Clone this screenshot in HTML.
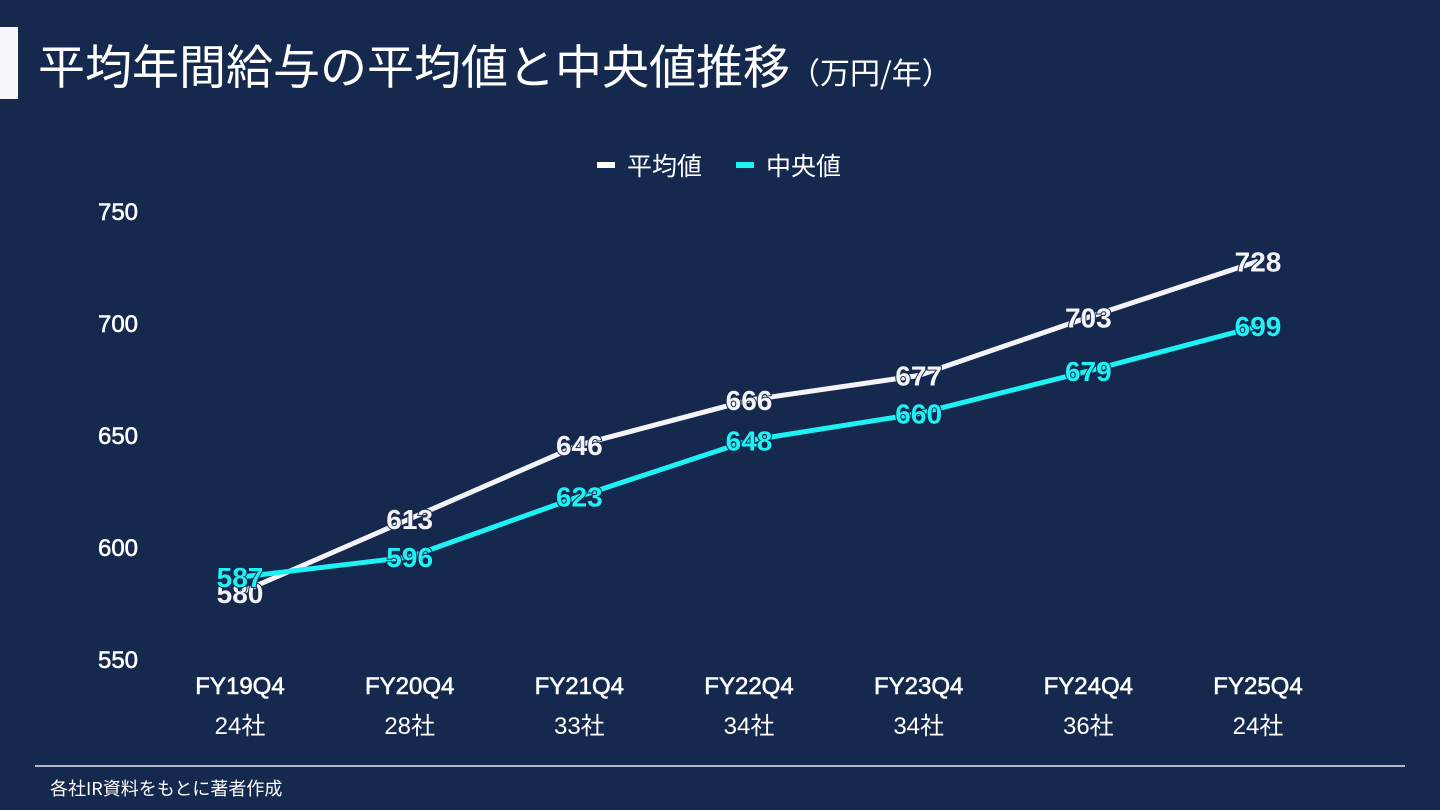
<!DOCTYPE html>
<html><head><meta charset="utf-8"><style>
html,body{margin:0;padding:0;width:1440px;height:810px;background:#15284d;overflow:hidden;font-family:"Liberation Sans","Noto Sans CJK JP",sans-serif;}
</style></head><body>
<svg width="1440" height="810" xmlns="http://www.w3.org/2000/svg">
<rect x="0" y="0" width="1440" height="810" fill="#15284d"/>
<rect x="0" y="27" width="18" height="72" fill="#f7f8fc"/>
<text x="38" y="84" fill="#ffffff" font-size="47" font-family="Noto Sans CJK JP, sans-serif">平均年間給与の平均値と中央値推移<tspan font-size="30">（万円/年）</tspan></text>
<g>
<rect x="597" y="162" width="18" height="6" fill="#ffffff"/>
<text x="627" y="175" fill="#ffffff" font-size="25" font-family="Noto Sans CJK JP, sans-serif">平均値</text>
<rect x="736" y="162" width="18" height="6" fill="#1ff1f4"/>
<text x="766" y="175" fill="#ffffff" font-size="25" font-family="Noto Sans CJK JP, sans-serif">中央値</text>
</g>
<g id="yaxis"></g>
<g id="xaxis"></g>
<g id="plot"></g>
<line x1="35" y1="766" x2="1405" y2="766" stroke="#e8ecf4" stroke-width="1.5"/>
<text x="50" y="795" fill="#ffffff" font-size="18" font-family="Noto Sans CJK JP, sans-serif">各社IR資料をもとに著者作成</text>
</svg>
<script>
const categories = ["FY19Q4","FY20Q4","FY21Q4","FY22Q4","FY23Q4","FY24Q4","FY25Q4"];
const companyCounts = ["24社","28社","33社","34社","34社","36社","24社"];
const meanValues = [580,613,646,666,677,703,728];
const medianValues = [587,596,623,648,660,679,699];
const yTicks = [550,600,650,700,750];

const NS="http://www.w3.org/2000/svg";
const yMin=550,yMax=750,yTop=212,yBot=660;
const x0=240,x1=1258;
function yScale(v){return yBot-(v-yMin)/(yMax-yMin)*(yBot-yTop);}
function xScale(i){return x0+i*(x1-x0)/(categories.length-1);}
function mk(tag,attrs,parent){const e=document.createElementNS(NS,tag);for(const k in attrs)e.setAttribute(k,attrs[k]);parent.appendChild(e);return e;}

const yg=document.getElementById('yaxis');
yTicks.forEach(t=>{
  const el=mk('text',{x:118,y:yScale(t)+8,fill:'#ffffff','font-size':24,'text-anchor':'middle',stroke:'#ffffff','stroke-width':0.6},yg);
  
  
  el.textContent=t;
});
const xg=document.getElementById('xaxis');
categories.forEach((c,i)=>{
  const el=mk('text',{x:xScale(i),y:694,fill:'#ffffff','font-size':24,'text-anchor':'middle',stroke:'#ffffff','stroke-width':0.6},xg);
  
  
  el.textContent=c;
  const el2=mk('text',{x:xScale(i),y:734,fill:'#ffffff','font-size':24,'text-anchor':'middle','font-family':'Liberation Sans, Noto Sans CJK JP, sans-serif'},xg);
  
  
  el2.textContent=companyCounts[i];
});
const pg=document.getElementById('plot');
function series(vals,color,name){
  const pts=vals.map((v,i)=>xScale(i)+','+yScale(v)).join(' ');
  const l=mk('polyline',{points:pts,fill:'none',stroke:color,'stroke-width':5,'stroke-linejoin':'round'},pg);
  
  
}
function labels(vals,color,name){
  vals.forEach((v,i)=>{
    const t=mk('text',{x:xScale(i),y:yScale(v)+10,fill:color,'font-size':28,'font-weight':'bold','text-anchor':'middle','font-family':'Liberation Sans, sans-serif',stroke:'#15284d','stroke-width':2,'paint-order':'stroke'},pg);
    
    
    t.textContent=v;
  });
}
series(meanValues,'#f4f4f8','mean');
series(medianValues,'#1ff1f4','median');
labels(meanValues,'#f4f4f8','mean');
labels(medianValues,'#1ff1f4','median');
</script>
</body></html>
